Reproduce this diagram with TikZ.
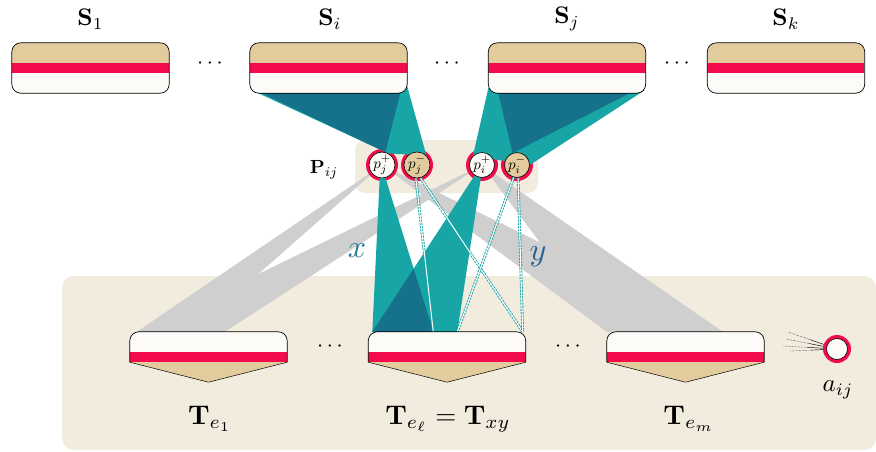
\documentclass[tikz,border=0pt]{standalone}
\usepackage{graphicx}
\usetikzlibrary{calc}
\pgfdeclarelayer{bg}
\pgfsetlayers{bg,main}
\definecolor{tanc}{HTML}{E2CB9D}
\definecolor{redc}{HTML}{F20C4B}
\definecolor{paper}{HTML}{FCFBF7}
\definecolor{beige}{HTML}{F2ECDF}
\definecolor{greyc}{HTML}{CFCFCF}
\definecolor{darkteal}{HTML}{16718A}
\definecolor{lightteal}{HTML}{17A6A5}
\definecolor{xcol}{HTML}{2A7A98}
\definecolor{ycol}{HTML}{2A5E8E}
\tikzset{
  boxnode/.style={rectangle, inner sep=0pt, minimum width=157pt, draw=none},
  outline/.style={draw=black, line width=0.7pt},
  pnode/.style={circle, draw=black, line width=0.6pt, minimum size=25pt, inner sep=0pt},
  lab/.style={inner sep=0pt},
  dline/.style={draw=lightteal, line width=2.8pt, dash pattern=on 2.2pt off 1pt,
     postaction={draw=white, solid, line width=1pt}},
  fancol/.style={fill=lightteal},
  fandark/.style={fill=darkteal},
  band/.style={fill=greyc},
}
\newcommand\SBox[2]{%
  \node[boxnode, minimum height=50pt] (#1) at (#2,68) {};
  \begin{scope}
    \clip[rounded corners=9pt] (#1.south west) rectangle (#1.north east);
    \fill[tanc] (#1.north west) rectangle ($(#1.north east)+(0,20)$);
    \fill[redc] ($(#1.north west)+(0,20)$) rectangle ($(#1.north east)+(0,30)$);
    \fill[paper] ($(#1.north west)+(0,30)$) rectangle (#1.south east);
  \end{scope}
  \draw[outline, rounded corners=9pt] (#1.south west) rectangle (#1.north east);
}
\newcommand\TBox[2]{%
  \node[boxnode, minimum height=30pt] (#1) at (#2,347) {};
  \coordinate (#1-tip) at ($(#1.south)+(0,20)$);
  \fill[tanc] (#1.south west) -- (#1-tip) -- (#1.south east) -- cycle;
  \begin{scope}
    \clip[rounded corners=9pt] (#1.north west) rectangle ($(#1.south east)+(0,30)$);
    \fill[paper] (#1.north west) rectangle ($(#1.north east)+(0,20)$);
    \fill[redc] ($(#1.north west)+(0,20)$) rectangle (#1.south east);
  \end{scope}
  \draw[outline, rounded corners=9pt] (#1.south west) -- (#1.north west) -- (#1.north east) -- (#1.south east);
  \draw[draw=black, line width=0.5pt] (#1.south east) -- (#1-tip) -- (#1.south west);
}
\newcommand\Sz[2]{\scalebox{#1}{#2}}
\begin{document}
\begin{tikzpicture}[x=1pt, y=-1pt]
\useasboundingbox (0,0) rectangle (876,451);

% ---------- boxes ----------
\SBox{S1}{90.5}
\SBox{Si}{328.5}
\SBox{Sj}{567}
\SBox{Sk}{786}
\TBox{T1}{208.5}
\TBox{Tl}{447}
\TBox{Tm}{685.5}

% ---------- p nodes ----------
\node[pnode, fill=paper] (pjp) at (382,165) {\Sz{1.5}{$p_j^+$}};
\node[pnode, fill=tanc]  (pjm) at (417,165) {\Sz{1.5}{$p_j^-$}};
\node[pnode, fill=paper] (pip) at (482,165) {\Sz{1.5}{$p_i^+$}};
\node[pnode, fill=tanc]  (pim) at (517,165) {\Sz{1.5}{$p_i^-$}};
\node[circle, draw=black, line width=0.6pt, fill=paper, minimum size=21pt, inner sep=0pt] (aij) at (837,349) {};

% ---------- labels ----------
\node[lab] (lS1) at (90.5,19) {\Sz{2.4}{$\mathbf{S}_1$}};
\node[lab] (lSi) at (330,19) {\Sz{2.4}{$\mathbf{S}_i$}};
\node[lab] (lSj) at (567,19) {\Sz{2.4}{$\mathbf{S}_j$}};
\node[lab] (lSk) at (786,19) {\Sz{2.4}{$\mathbf{S}_k$}};
\node[lab] (lT1) at (210,419) {\Sz{2.7}{$\mathbf{T}_{e_1}$}};
\node[lab] (lTl) at (448,419) {\Sz{2.7}{$\mathbf{T}_{e_\ell}=\mathbf{T}_{xy}$}};
\node[lab] (lTm) at (689,419) {\Sz{2.7}{$\mathbf{T}_{e_m}$}};
\node[lab] (la) at (838,390) {\Sz{2.5}{$a_{ij}$}};
\node[lab] (lP) at (324,170) {\Sz{1.9}{$\mathbf{P}_{ij}$}};
\node[lab] (d1) at (210,64) {\Sz{2.2}{$\cdots$}};
\node[lab] (d2) at (447,64) {\Sz{2.2}{$\cdots$}};
\node[lab] (d3) at (677,64) {\Sz{2.2}{$\cdots$}};
\node[lab] (d4) at (330,347) {\Sz{2.2}{$\cdots$}};
\node[lab] (d5) at (568,347) {\Sz{2.2}{$\cdots$}};
\node[lab, text=xcol] (lx) at (357,251) {\Sz{3.2}{$x$}};
\node[lab, text=ycol] (ly) at (538,257) {\Sz{3.2}{$y$}};

% ---------- background layer ----------
\begin{pgfonlayer}{bg}
\fill[beige, rounded corners=12pt] (62,276) rectangle (876,450);
\fill[beige, rounded corners=10pt] (355,140) rectangle (538,193);

% grey bands
\fill[band] (pjp.center) -- ($(T1.north west)+(7,0)$) -- ($(T1.north west)+(63,0)$) -- cycle;
\fill[band] (pip.center) -- ($(T1.north west)+(10,0)$) -- ($(T1.north west)+(95,0)$) -- cycle;
\fill[band] (pjp.center) -- ($(Tm.north west)+(0,0)$) -- ($(Tm.north west)+(116,0)$) -- cycle;
\fill[band] (pip.center) -- ($(Tm.north west)+(0,0)$) -- ($(Tm.north west)+(116,0)$) -- cycle;

% red rings
\foreach \n in {pjp,pjm,pip,pim} \fill[redc] (\n.center) circle (16pt);

% connectors of a_ij
\coordinate (e1) at (788,332);
\coordinate (e2) at (786,339);
\coordinate (e3) at (783,346);
\coordinate (e4) at (790,351);
\foreach \e in {e1,e2,e3,e4} {
  \draw[line width=0.45pt] (aij.center) -- ($(aij.center)!0.55!(\e)$);
  \draw[line width=0.45pt, densely dotted] ($(aij.center)!0.55!(\e)$) -- (\e);
}
\fill[redc] (aij.center) circle (14pt);

% upper fans
\fill[fancol] ($(Si.south west)+(2,-3)$) -- ($(Si.south east)+(0,-7)$) -- (pjm.north east) -- (pjp.60) -- cycle;
\fill[fandark] ($(Si.south west)+(12,0)$) -- ($(Si.south east)+(-7,0)$) -- (pjp.75) -- cycle;
\fill[fancol] ($(Sj.south west)+(0,-5)$) -- ($(Sj.south east)+(-1,-3)$) -- (pim.east) -- (pip.135) -- cycle;
\fill[fandark] ($(Sj.south west)+(10,0)$) -- ($(Sj.south east)+(-16,0)$) -- (pim.110) -- cycle;

% lower fans
\coordinate (b0) at ($(Tl.north west)+(4,0)$);
\coordinate (b1) at ($(Tl.north west)+(65,0)$);
\coordinate (b2) at ($(Tl.north west)+(89,0)$);
\coordinate (b3) at ($(Tl.north east)+(-3,0)$);
\fill[fancol] (pjp.260) -- (pjp.285) -- (b1) -- (b0) -- cycle;
\fill[fancol] (pip.235) -- (pip.265) -- (b2) -- (b0) -- cycle;
\fill[fandark] (b0) -- (b1) -- (intersection of pjp.285--b1 and pip.235--b0) -- cycle;

% dashed connectors
\draw[dline] (pjm.265) -- (b1);
\draw[dline] (pjm.285) -- (b3);
\draw[dline] (pim.255) -- (b2);
\draw[dline] (pim.275) -- (b3);
\end{pgfonlayer}
\end{tikzpicture}
\end{document}
